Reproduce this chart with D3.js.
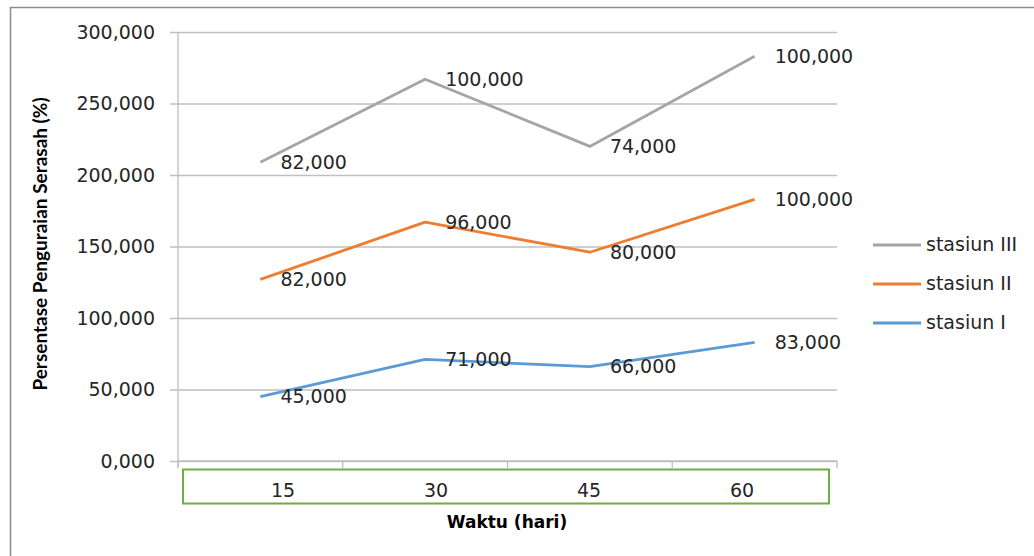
<!DOCTYPE html>
<html>
<head>
<meta charset="utf-8">
<script src="https://cdn.jsdelivr.net/npm/d3@7"></script>
<style>
  html, body { margin: 0; padding: 0; background: #fff; }
  svg { display: block; }
  text { font-family: "DejaVu Sans", sans-serif; fill: #262626; }
</style>
</head>
<body>
<svg id="chart" width="1034" height="556"></svg>
<script>
// Sampling days and decomposition (%) per station, drawn as stacked lines
const days = ["15", "30", "45", "60"];
const stasiunI = [45, 71, 66, 83];
const stasiunII = [82, 96, 80, 100];
const stasiunIII = [82, 100, 74, 100];
const seriesNames = ["stasiun I", "stasiun II", "stasiun III"];
const seriesColors = ["#5b9bd5", "#ed7d31", "#a5a5a5"];
const yTicks = [0, 50, 100, 150, 200, 250, 300];

const rows = days.map((d, i) => ({
  day: d,
  "stasiun I": stasiunI[i],
  "stasiun II": stasiunII[i],
  "stasiun III": stasiunIII[i]
}));
const stacked = d3.stack().keys(seriesNames)(rows);

const svg = d3.select("#chart");
const W = 1034, H = 556;

// Chart frame
svg.append("line").attr("x1", 10).attr("x2", W).attr("y1", 7.5).attr("y2", 7.5)
  .attr("stroke", "#8c8c8c").attr("stroke-width", 1.5);
svg.append("line").attr("x1", 10.5).attr("x2", 10.5).attr("y1", 7).attr("y2", H)
  .attr("stroke", "#8c8c8c").attr("stroke-width", 1.5);

const plot = { left: 178, right: 837, top: 32, bottom: 461 };

const x = d3.scaleBand().domain(days).range([plot.left, plot.right]);
const y = d3.scaleLinear().domain([0, 300]).range([plot.bottom, plot.top]);
// Numbers shown with a comma decimal separator and three decimals, e.g. 300,000
const fmtNum = v => {
  const [intPart, dec] = d3.format(".3f")(v).split(".");
  return d3.format(",")(+intPart) + "," + dec;
};

// Horizontal gridlines and y-axis
const yAxis = d3.axisLeft(y).tickValues(yTicks).tickSize(plot.right - plot.left + 8)
  .tickPadding(15).tickFormat(fmtNum);
const gy = svg.append("g").attr("transform", `translate(${plot.right},0)`).call(yAxis);
gy.select(".domain").remove();
gy.selectAll(".tick line").attr("stroke", "#bfbfbf").attr("stroke-width", 1.3);
gy.selectAll(".tick text").attr("font-size", 19).attr("fill", "#262626").attr("dy", "0.34em")
  .style("font-family", "'DejaVu Sans'");

// Vertical axis line
svg.append("line").attr("x1", plot.left).attr("x2", plot.left)
  .attr("y1", plot.top).attr("y2", plot.bottom + 6)
  .attr("stroke", "#bfbfbf").attr("stroke-width", 1.3);

// Category axis with tick marks between categories
const xAxis = d3.axisBottom(x).tickSize(0).tickFormat("");
const gx = svg.append("g").attr("transform", `translate(0,${plot.bottom})`).call(xAxis);
gx.select(".domain").attr("stroke", "#bfbfbf").attr("stroke-width", 1.3)
  .attr("d", `M${plot.left},0H${plot.right}`);
const bounds = days.map(d => x(d)).concat([plot.right]);
svg.append("g").selectAll("line").data(bounds).join("line")
  .attr("x1", d => d).attr("x2", d => d)
  .attr("y1", plot.bottom).attr("y2", plot.bottom + 7)
  .attr("stroke", "#bfbfbf").attr("stroke-width", 1.3);

// Green box holding the category labels
svg.append("rect").attr("x", 183).attr("y", 469.5).attr("width", 646).attr("height", 34)
  .attr("fill", "none").attr("stroke", "#70ad47").attr("stroke-width", 2);
const xLabel = d3.scalePoint().domain(days).range([283, 742]);
svg.append("g").selectAll("text").data(days).join("text")
  .attr("x", d => xLabel(d)).attr("y", 491).attr("dy", "0.34em")
  .attr("text-anchor", "middle").attr("font-size", 19).text(d => d);

// Axis titles
svg.append("text").attr("x", 507).attr("y", 522).attr("dy", "0.34em")
  .attr("text-anchor", "middle").attr("font-size", 17).attr("font-weight", "bold")
  .style("fill", "#000").text("Waktu (hari)");
svg.append("text").attr("transform", "translate(41,244) rotate(-90)")
  .attr("dy", "0.34em").attr("text-anchor", "middle").attr("font-size", 19)
  .style("font-family", "Lato").attr("font-weight", "bold").style("fill", "#000")
  .text("Persentase Penguraian Serasah (%)");

// Lines
const cx = d => x(d.data.day) + x.bandwidth() / 2;
const line = d3.line().x(cx).y(d => y(d[1]));
const gl = svg.append("g");
stacked.forEach((s, i) => {
  gl.append("path").datum(s).attr("d", line).attr("fill", "none")
    .attr("stroke", seriesColors[i]).attr("stroke-width", 2.8)
    .attr("stroke-linejoin", "round");
});

// Data labels (the individual series values), placed right of each point
stacked.forEach((s, i) => {
  gl.append("g").selectAll("text").data(s).join("text")
    .attr("x", d => cx(d) + 20).attr("y", d => y(d[1])).attr("dy", "0.34em")
    .attr("font-size", 19).text(d => fmtNum(d[1] - d[0]));
});

// Legend (top series first)
const legend = svg.append("g");
const legendOrder = seriesNames.map((n, i) => ({ n, c: seriesColors[i] })).reverse();
legendOrder.forEach((e, k) => {
  const ly = 245 + k * 39;
  legend.append("line").attr("x1", 873).attr("x2", 921).attr("y1", ly).attr("y2", ly)
    .attr("stroke", e.c).attr("stroke-width", 2.8);
  legend.append("text").attr("x", 926).attr("y", ly).attr("dy", "0.34em")
    .attr("font-size", 19).text(e.n);
});
</script>
</body>
</html>
